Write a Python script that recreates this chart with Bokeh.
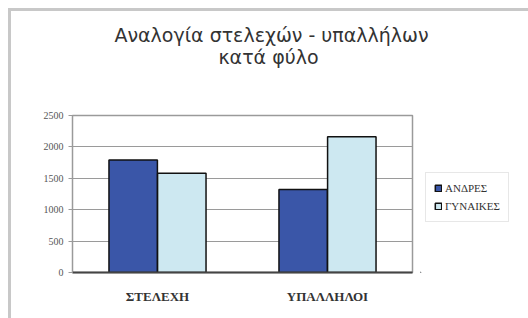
from bokeh.plotting import figure
from bokeh.models import (FactorRange, Range1d, Legend, LegendItem, Label,
                          SingleIntervalTicker, ColumnDataSource)
from bokeh.transform import dodge
from bokeh.layouts import column, row
from bokeh.embed import file_html
from bokeh.resources import INLINE

categories = ["ΣΤΕΛΕΧΗ", "ΥΠΑΛΛΗΛΟΙ"]
men = [1790, 1320]
women = [1580, 2160]
series_names = ["ΑΝΔΡΕΣ", "ΓΥΝΑΙΚΕΣ"]
title_lines = ["Αναλογία στελεχών - υπαλλήλων", "κατά  φύλο"]

MEN_COLOR = "#3a56a8"
WOMEN_COLOR = "#cde8f1"
EDGE = "#111111"

# ---- title strip ----
t = figure(width=528, height=105, x_range=Range1d(0, 528), y_range=Range1d(105, 0),
           output_backend="svg", toolbar_location=None, title=None,
           x_axis_type=None, y_axis_type=None, min_border=0,
           border_fill_color=None, background_fill_color=None,
           outline_line_color=None,
           styles={"box-shadow": "inset 8px 8px 0 #ffffff, inset 11px 11px 0 #c8c8c8"})
t.grid.visible = False
for i, line in enumerate(title_lines):
    t.add_layout(Label(x=271, y=34 + 22 * i, text=line, text_align="center",
                       text_baseline="alphabetic", text_font="DejaVu Sans",
                       text_font_size="19px", text_color="#333333"))

# ---- main chart ----
src = ColumnDataSource(dict(cat=categories, men=men, women=women))
p = figure(x_range=FactorRange(*categories), y_range=Range1d(0, 2500),
           width=420, height=213, output_backend="svg", toolbar_location=None,
           title=None, min_border_left=72, min_border_right=8,
           min_border_top=10, min_border_bottom=46, border_fill_color=None,
           styles={"box-shadow": "inset 8px 0 0 #ffffff, inset 11px 0 0 #c8c8c8"})
p.outline_line_color = "#9a9a9a"
p.outline_line_width = 1.5

p.vbar(x=dodge("cat", -0.143, range=p.x_range), top="men", width=0.285,
       source=src, fill_color=MEN_COLOR, line_color=EDGE, line_width=1.5)
p.vbar(x=dodge("cat", 0.143, range=p.x_range), top="women", width=0.285,
       source=src, fill_color=WOMEN_COLOR, line_color=EDGE, line_width=1.5)

p.yaxis.ticker = SingleIntervalTicker(interval=500)
p.ygrid.ticker = SingleIntervalTicker(interval=500)
p.ygrid.grid_line_color = "#9a9a9a"
p.xgrid.grid_line_color = None
p.yaxis.axis_line_color = "#9a9a9a"
p.yaxis.major_tick_line_color = "#9a9a9a"
p.yaxis.major_tick_in = 0
p.yaxis.major_tick_out = 4
p.yaxis.minor_tick_line_color = None
p.yaxis.major_label_text_font = "Liberation Serif"
p.yaxis.major_label_text_font_size = "10px"
p.yaxis.major_label_text_color = "#555555"
p.yaxis.major_label_standoff = 5

p.xaxis.axis_line_color = "#444444"
p.xaxis.axis_line_width = 2
p.xaxis.major_tick_line_color = None
p.xaxis.major_label_text_font = "Liberation Serif"
p.xaxis.major_label_text_font_size = "13px"
p.xaxis.major_label_text_font_style = "bold"
p.xaxis.major_label_text_color = "#333333"
p.xaxis.major_label_standoff = 10

# ---- legend strip (proxy glyphs kept outside the visible range) ----
lf = figure(width=108, height=213, x_range=Range1d(0, 1), y_range=Range1d(0, 1),
            output_backend="svg", toolbar_location=None, title=None,
            x_axis_type=None, y_axis_type=None, min_border=0,
            border_fill_color=None, background_fill_color=None,
            outline_line_color=None)
lf.grid.visible = False
proxy = ColumnDataSource(dict(x=[-5], top=[-5]))
g1 = lf.vbar(x="x", top="top", width=0.1, source=proxy,
             fill_color=MEN_COLOR, line_color=EDGE, line_width=1.5)
g2 = lf.vbar(x="x", top="top", width=0.1, source=proxy,
             fill_color=WOMEN_COLOR, line_color=EDGE, line_width=1.5)
legend = Legend(items=[LegendItem(label=series_names[0], renderers=[g1]),
                       LegendItem(label=series_names[1], renderers=[g2])],
                location=(5, 50), label_text_font="Liberation Serif",
                label_text_font_size="11px", label_text_color="#333333",
                glyph_width=8, glyph_height=8, label_standoff=3,
                spacing=4, padding=8, margin=0, label_height=14,
                border_line_color="#d0d0d0", background_fill_color="white")
lf.add_layout(legend, "center")

layout = column(t, row(p, lf, spacing=0), spacing=0)
open("out.html", "w").write(file_html(layout, INLINE))
